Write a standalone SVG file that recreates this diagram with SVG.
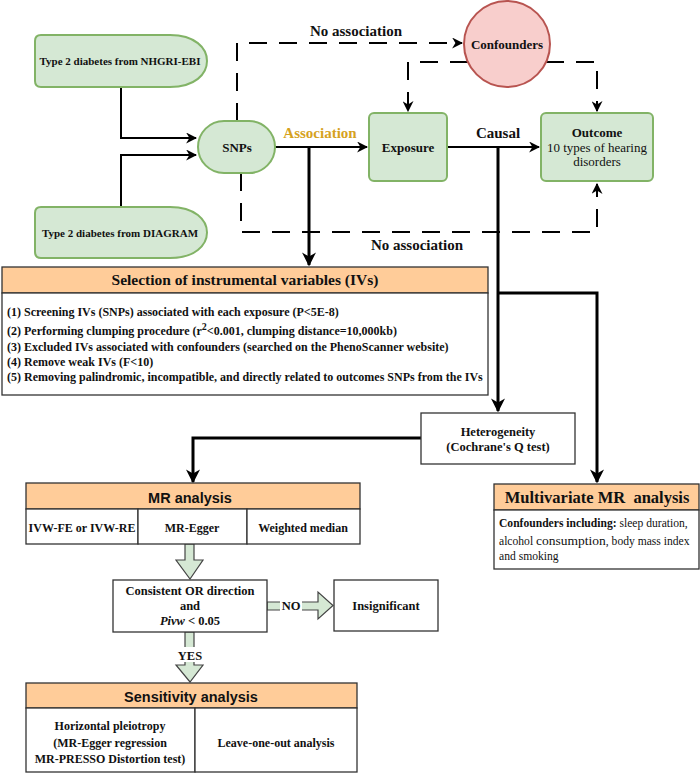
<svg xmlns="http://www.w3.org/2000/svg" width="700" height="774" viewBox="0 0 700 774">
<defs>
<style>
.t{font-family:"Liberation Serif","Times New Roman",serif;fill:#111;}
.b{font-weight:bold;}
.s{font-family:"Liberation Sans",Arial,sans-serif;font-weight:bold;fill:#111;}
.g{fill:#d5e8d4;stroke:#82b366;stroke-width:2;}
.box{fill:#fff;stroke:#333;stroke-width:1.3;}
.hd{fill:#ffcc99;stroke:#333;stroke-width:1.3;}
.ln{fill:none;stroke:#000;stroke-width:2;}
.tk{fill:none;stroke:#000;stroke-width:3;}
.ds{fill:none;stroke:#000;stroke-width:2;stroke-dasharray:18 12;}
.ba{fill:#d5e8d4;stroke:#444;stroke-width:1.2;}
</style>
<marker id="a" viewBox="0 0 10 10" refX="9" refY="5" markerWidth="11" markerHeight="11" markerUnits="userSpaceOnUse" orient="auto">
<path d="M0,0 L10,5 L0,10 L3,5 Z" fill="#000"/>
</marker>
<marker id="aL" viewBox="0 0 10 10" refX="9" refY="5" markerWidth="14" markerHeight="14" markerUnits="userSpaceOnUse" orient="auto">
<path d="M0,0 L10,5 L0,10 L3,5 Z" fill="#000"/>
</marker>
</defs>
<rect width="700" height="774" fill="#fff"/>

<g id="connectors">
<path class="ln" d="M121 87 V138 H196" marker-end="url(#a)"/>
<path class="ln" d="M121 207 V155 H196" marker-end="url(#a)"/>
<path class="ln" d="M275 147 H367" marker-end="url(#a)"/>
<path class="ln" d="M447 147 H539" marker-end="url(#a)"/>
<path class="ds" d="M237 121 V43 H462" marker-end="url(#a)"/>
<path class="ds" d="M241 173 V232 H597 V184" marker-end="url(#a)"/>
<path class="ds" d="M468 62 H408 V111" marker-end="url(#a)"/>
<path class="ds" d="M546 62 H597 V111" marker-end="url(#a)"/>
<path class="tk" d="M309 147 V265" marker-end="url(#aL)"/>
<path class="tk" d="M498 147 V411" marker-end="url(#aL)"/>
<path class="tk" d="M498 293 H597 V482" marker-end="url(#aL)"/>
<path class="tk" d="M421 438 H193 V482" marker-end="url(#aL)"/>
<path class="ba" d="M185 544 H194 V560 H203 L190 579 L176 560 H185 Z"/>
<path class="ba" d="M267 602 H318 V592 L333 605.5 L318 619 V610 H267 Z"/>
<path class="ba" d="M185 632 H194 V665 H203 L190 682 L176 665 H185 Z"/>
<rect x="280" y="598" width="22" height="15" fill="#fff"/>
<rect x="176" y="647" width="28" height="15" fill="#fff"/>
<text class="t b" x="291" y="610" font-size="12.5" text-anchor="middle">NO</text>
<text class="t b" x="190" y="659.5" font-size="12.5" text-anchor="middle">YES</text>
<text class="t b" x="356" y="36" font-size="15" text-anchor="middle">No association</text>
<text class="t b" x="417" y="250" font-size="15" text-anchor="middle">No association</text>
<text class="t b" x="320" y="138" font-size="15" text-anchor="middle" style="fill:#d6a21e">Association</text>
<text class="t b" x="498" y="138" font-size="15" text-anchor="middle">Causal</text>
</g>

<g id="nhgri">
<path class="g" d="M41 35 H170 C195 35 207 48 207 61 C207 74 195 87 170 87 H41 Q35 87 35 81 V41 Q35 35 41 35 Z"/>
<text class="t b" x="120" y="65" font-size="11" text-anchor="middle">Type 2 diabetes from NHGRI-EBI</text>
</g>
<g id="diagram">
<path class="g" d="M41 207 H170 C195 207 207 220 207 232.5 C207 245 195 258 170 258 H41 Q35 258 35 252 V213 Q35 207 41 207 Z"/>
<text class="t b" x="120" y="236.5" font-size="11" text-anchor="middle">Type 2 diabetes from DIAGRAM</text>
</g>
<g id="snps">
<rect class="g" x="198" y="121" width="77" height="52" rx="26"/>
<text class="t b" x="237" y="151.5" font-size="13" text-anchor="middle">SNPs</text>
</g>
<g id="exposure">
<rect class="g" x="369" y="113" width="78" height="68" rx="5"/>
<text class="t b" x="408" y="151.5" font-size="13" text-anchor="middle">Exposure</text>
</g>
<g id="outcome">
<rect class="g" x="541" y="113" width="112" height="68" rx="5"/>
<text class="t b" x="597" y="136.5" font-size="13" text-anchor="middle">Outcome</text>
<text class="t" x="597" y="151.5" font-size="13" text-anchor="middle">10 types of hearing</text>
<text class="t" x="597" y="166" font-size="13" text-anchor="middle">disorders</text>
</g>
<g id="confounders">
<circle cx="507" cy="44" r="43" fill="#f8cecc" stroke="#b85450" stroke-width="2"/>
<text class="t b" x="507" y="48.5" font-size="13" text-anchor="middle">Confounders</text>
</g>

<g id="selection">
<rect class="hd" x="2" y="267" width="486" height="26"/>
<rect class="box" x="2" y="293" width="486" height="102"/>
<text class="t b" x="245" y="285" font-size="15.5" text-anchor="middle">Selection of instrumental variables (IVs)</text>
<g class="t b" font-size="12">
<text x="7" y="316">(1) Screening IVs (SNPs) associated with each exposure (P&lt;5E-8)</text>
<text x="7" y="335">(2) Performing clumping procedure (r<tspan dy="-5" font-size="10">2</tspan><tspan dy="5">&lt;0.001, clumping distance=10,000kb)</tspan></text>
<text x="7" y="351">(3) Excluded IVs associated with confounders (searched on the PhenoScanner website)</text>
<text x="7" y="366">(4) Remove weak IVs (F&lt;10)</text>
<text x="7" y="381">(5) Removing palindromic, incompatible, and directly related to outcomes SNPs from the IVs</text>
</g>
</g>

<g id="heterogeneity">
<rect class="box" x="421" y="413" width="154" height="51"/>
<text class="t b" x="498" y="436" font-size="12.5" text-anchor="middle">Heterogeneity</text>
<text class="t b" x="498" y="451" font-size="12.5" text-anchor="middle">(Cochrane's Q test)</text>
</g>

<g id="multivariate">
<rect class="hd" x="494" y="484" width="205" height="26"/>
<rect class="box" x="494" y="510" width="205" height="59"/>
<text class="t b" x="597" y="503" font-size="16.5" text-anchor="middle" xml:space="preserve">Multivariate MR  analysis</text>
<text class="t" x="499" y="527" font-size="11.6"><tspan class="b">Confounders including:</tspan> sleep duration,</text>
<text class="t" x="499" y="545" font-size="11.6">alcohol <tspan font-size="13.5">consumption</tspan>, body mass index</text>
<text class="t" x="499" y="560" font-size="11.6">and smoking</text>
</g>

<g id="mr-analysis">
<rect class="hd" x="26" y="483" width="334" height="26"/>
<rect class="box" x="26" y="509" width="112" height="35"/>
<rect class="box" x="138" y="509" width="109" height="35"/>
<rect class="box" x="247" y="509" width="113" height="35"/>
<text class="s" x="190" y="503" font-size="14.5" text-anchor="middle">MR analysis</text>
<text class="t b" x="82" y="532" font-size="12" text-anchor="middle">IVW-FE or IVW-RE</text>
<text class="t b" x="192" y="532" font-size="12" text-anchor="middle">MR-Egger</text>
<text class="t b" x="303" y="532" font-size="12" text-anchor="middle">Weighted median</text>
</g>

<g id="consistent">
<rect class="box" x="113" y="580" width="154" height="52"/>
<text class="t b" x="190" y="595" font-size="12.5" text-anchor="middle">Consistent OR direction</text>
<text class="t b" x="190" y="610" font-size="12.5" text-anchor="middle">and</text>
<text class="t b" x="190" y="625" font-size="12.5" text-anchor="middle"><tspan font-style="italic">Pivw</tspan> &lt; 0.05</text>
</g>

<g id="insignificant">
<rect class="box" x="334" y="580" width="104" height="51"/>
<text class="t b" x="386" y="610" font-size="12.5" text-anchor="middle">Insignificant</text>
</g>

<g id="sensitivity">
<rect class="hd" x="26" y="683" width="331" height="25"/>
<rect class="box" x="26" y="708" width="169" height="64"/>
<rect class="box" x="195" y="708" width="162" height="64"/>
<text class="s" x="191" y="701.5" font-size="14.5" text-anchor="middle">Sensitivity analysis</text>
<text class="t b" x="110" y="730" font-size="12" text-anchor="middle">Horizontal pleiotropy</text>
<text class="t b" x="110" y="747" font-size="12" text-anchor="middle">(MR-Egger regression</text>
<text class="t b" x="110" y="763" font-size="12" text-anchor="middle">MR-PRESSO Distortion test)</text>
<text class="t b" x="276" y="747" font-size="12" text-anchor="middle">Leave-one-out analysis</text>
</g>
</svg>
